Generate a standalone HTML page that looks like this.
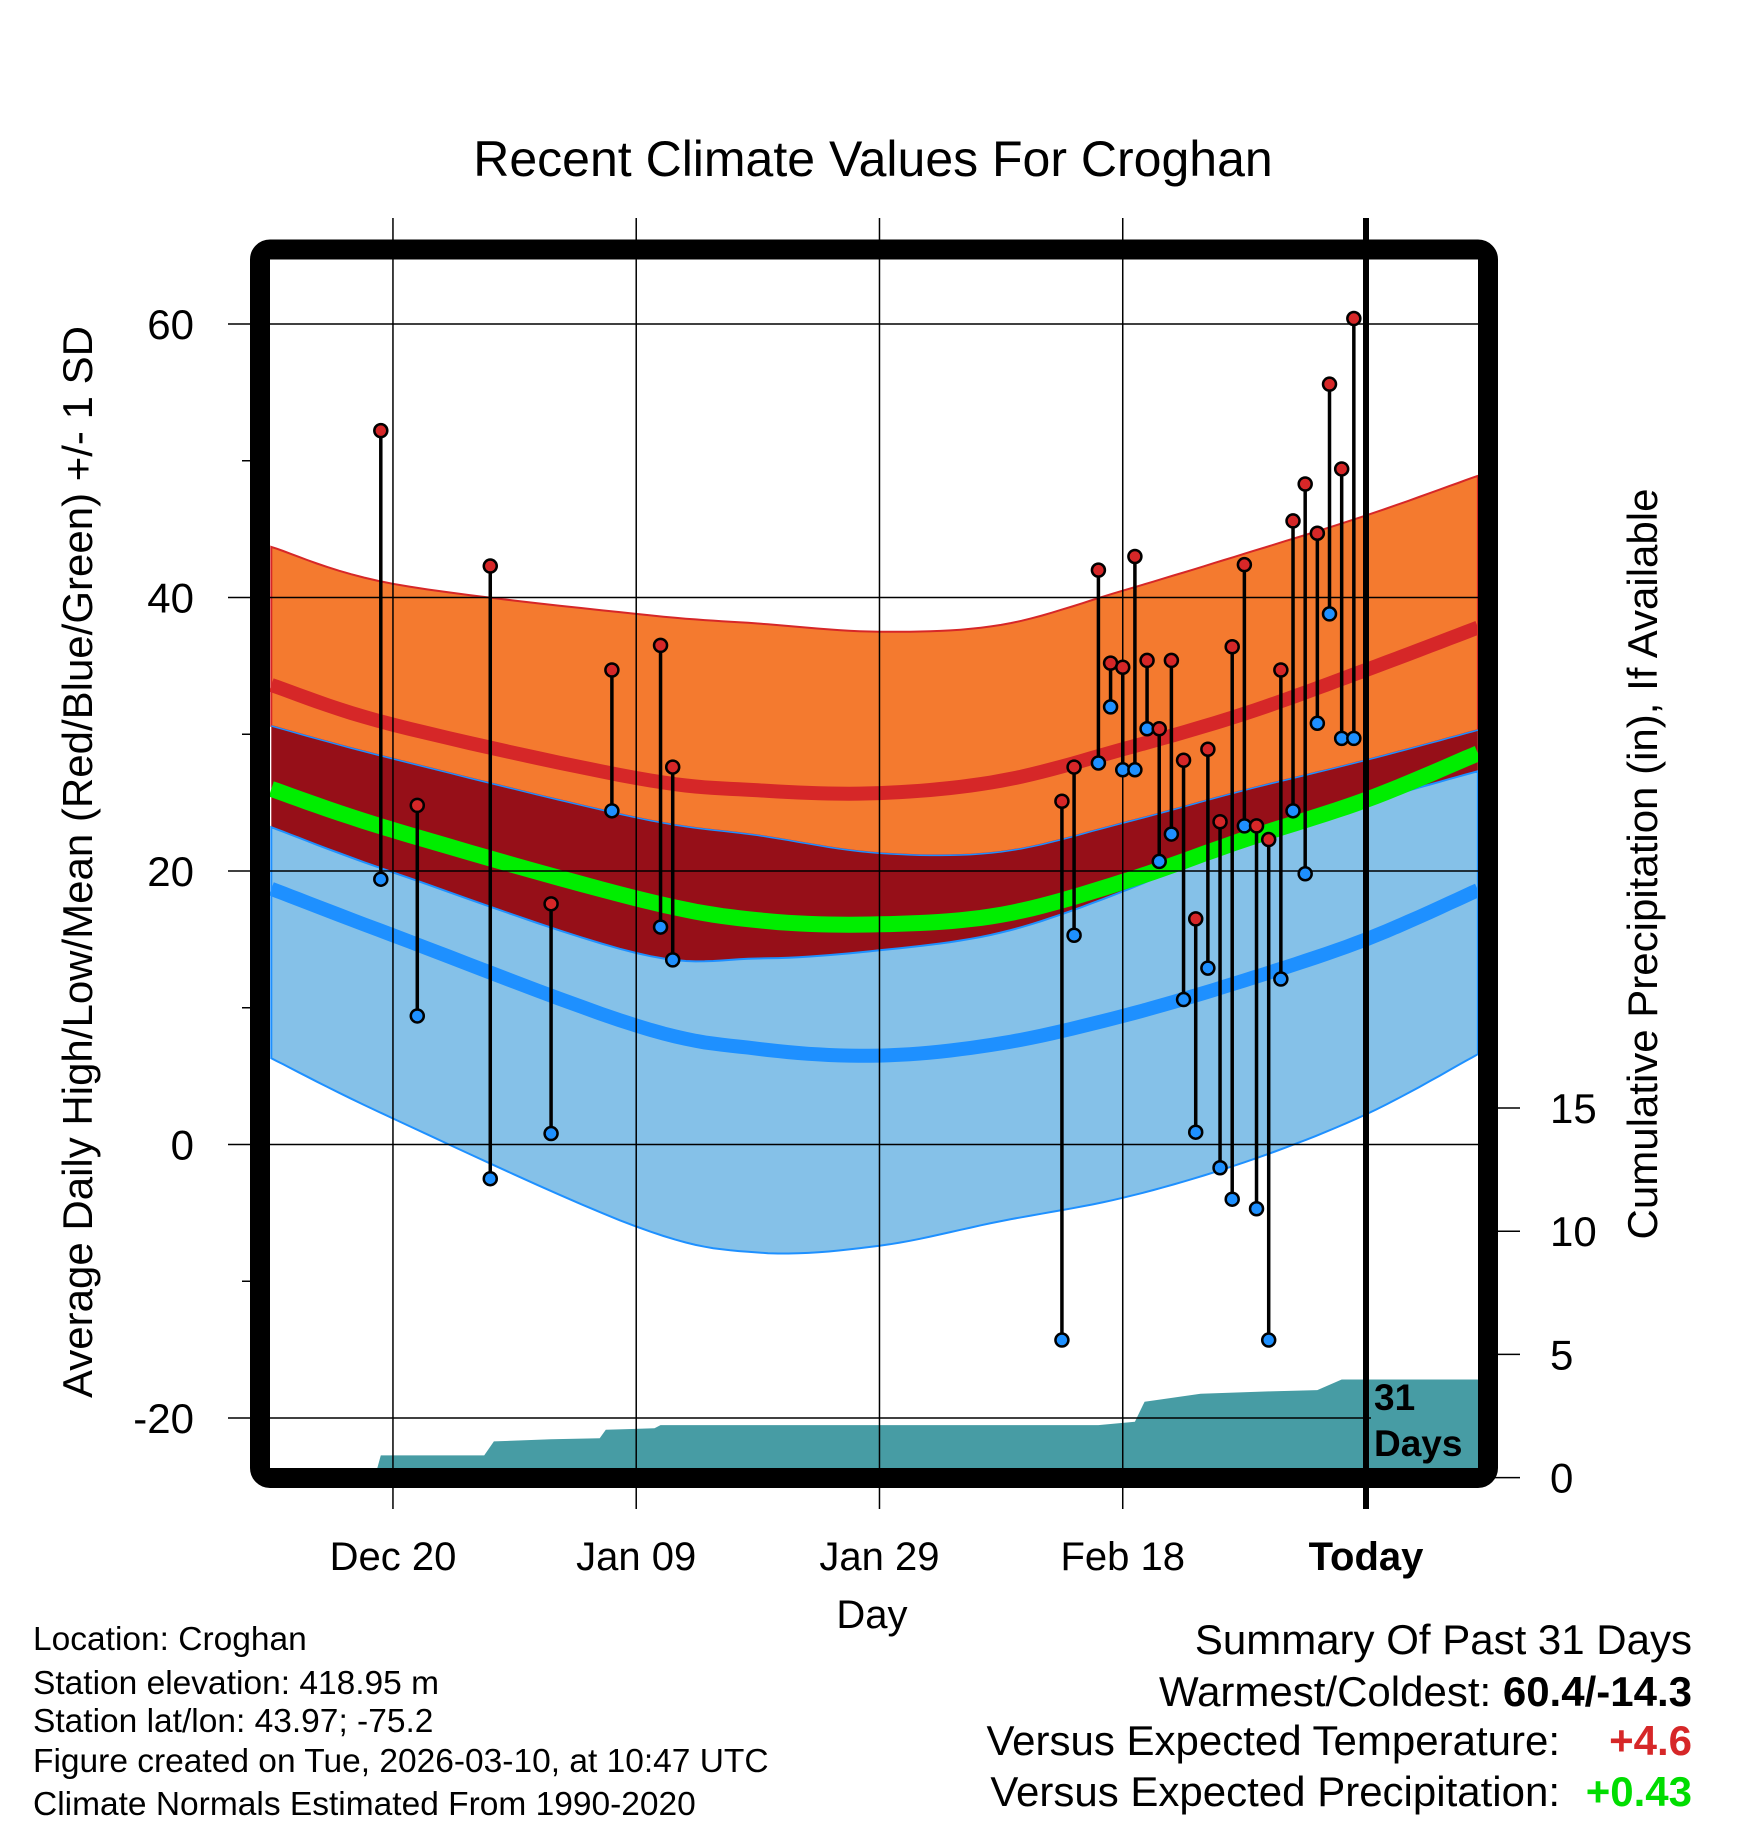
<!DOCTYPE html>
<html><head><meta charset="utf-8"><style>
html,body{margin:0;padding:0;background:#fff;}
svg{display:block;font-family:"Liberation Sans",sans-serif;}
</style></head><body>
<svg id="chart" width="1748" height="1828" viewBox="0 0 1748 1828" xmlns="http://www.w3.org/2000/svg">
<defs><clipPath id="plotclip"><rect x="270" y="260" width="1208" height="1208"/></clipPath></defs>
<rect width="1748" height="1828" fill="#fff"/>
<text x="873" y="176" font-size="50" text-anchor="middle">Recent Climate Values For Croghan</text>
<g id="bands" clip-path="url(#plotclip)"></g>
<g id="grid"></g>
<g id="marks" clip-path="url(#plotclip)"></g>
<g id="axes"></g>
<text transform="translate(92,862) rotate(-90)" font-size="42" text-anchor="middle">Average Daily High/Low/Mean (Red/Blue/Green) +/- 1 SD</text>
<text transform="translate(1657,864) rotate(-90)" font-size="42" text-anchor="middle">Cumulative Precipitation (in), If Available</text>
<text x="872" y="1628" font-size="40" text-anchor="middle">Day</text>
<g font-size="33.5">
<text x="33" y="1650">Location: Croghan</text>
<text x="33" y="1694">Station elevation: 418.95 m</text>
<text x="33" y="1732">Station lat/lon: 43.97; -75.2</text>
<text x="33" y="1772">Figure created on Tue, 2026-03-10, at 10:47 UTC</text>
<text x="33" y="1815">Climate Normals Estimated From 1990-2020</text>
</g>
<g font-size="42" text-anchor="end">
<text x="1692" y="1654">Summary Of Past 31 Days</text>
<text x="1692" y="1706">Warmest/Coldest: <tspan font-weight="bold">60.4/-14.3</tspan></text>
<text x="1560" y="1755">Versus Expected Temperature:</text>
<text x="1692" y="1755" font-weight="bold" fill="#d62728">+4.6</text>
<text x="1560" y="1806">Versus Expected Precipitation:</text>
<text x="1692" y="1806" font-weight="bold" fill="#00dd00">+0.43</text>
</g>
</svg>
<script>
var normDays=[-90,-80,-60,-50,-40,-30,-20,-10,0,9.2];
var highPlusSD=[43.7,41.0,38.8,38.1,37.5,38.0,40.5,43.2,46.0,48.9];
var meanHigh=[33.6,30.7,26.8,25.9,25.7,26.6,28.9,31.5,34.7,37.8];
var highMinusSD=[30.6,28.2,23.9,22.6,21.3,21.4,23.5,25.9,28.1,30.3];
var meanTemp=[26.0,23.0,18.0,16.4,16.1,16.8,19.2,22.3,25.2,28.6];
var lowPlusSD=[23.2,19.9,14.0,13.6,14.2,15.5,18.5,22.3,25.0,27.3];
var meanLow=[18.7,15.3,8.7,7.0,6.5,7.4,9.4,12.0,15.0,18.6];
var lowMinusSD=[6.3,1.9,-6.0,-7.9,-7.4,-5.6,-3.9,-1.3,2.2,6.6];
var obsDays=[-81,-78,-72,-67,-62,-58,-57,-25,-24,-22,-21,-20,-19,-18,-17,-16,-15,-14,-13,-12,-11,-10,-9,-8,-7,-6,-5,-4,-3,-2,-1];
var obsHigh=[52.2,24.8,42.3,17.6,34.7,36.5,27.6,25.1,27.6,42.0,35.2,34.9,43.0,35.4,30.4,35.4,28.1,16.5,28.9,23.6,36.4,42.4,23.3,22.3,34.7,45.6,48.3,44.7,55.6,49.4,60.4];
var obsLow=[19.4,9.4,-2.5,0.8,24.4,15.9,13.5,-14.3,15.3,27.9,32.0,27.4,27.4,30.4,20.7,22.7,10.6,0.9,12.9,-1.7,-4.0,23.3,-4.7,-14.3,12.1,24.4,19.8,30.8,38.8,29.7,29.7];
var precipDays=[-90,-81.5,-81,-72.5,-71.7,-67,-63,-62.5,-58.5,-58,-22,-19,-18.2,-13.6,-8,-4,-2,9.2];
var precipCum=[0,0,0.9,0.9,1.47,1.56,1.6,1.94,2.0,2.13,2.13,2.27,3.08,3.4,3.5,3.55,3.98,3.98];
var dateLabels=["Dec 20","Jan 09","Jan 29","Feb 18","Today"];
var dateOffsets=[-80,-60,-40,-20,0];
var tempTicks=[60,40,20,0,-20];
var tempMinor=[50,30,10,-10];
var precipTicks=[0,5,10,15];

function xScale(d){return 1366+d*12.163;}
function yScale(v){return 1144.5-v*13.675;}
function ypScale(p){return 1477.6-p*24.64;}
var SVGNS="http://www.w3.org/2000/svg";
function mk(tag,attrs,parent){var el=document.createElementNS(SVGNS,tag);for(var k in attrs){el.setAttribute(k,attrs[k]);}parent.appendChild(el);return el;}
function smoothPts(arr){
  var P=[];
  for(var i=0;i<normDays.length;i++){P.push([xScale(normDays[i]),yScale(arr[i])]);}
  var out=[];
  var n=P.length;
  for(var j=0;j<n-1;j++){
    var p0=P[Math.max(0,j-1)],p1=P[j],p2=P[j+1],p3=P[Math.min(n-1,j+2)];
    for(var s=0;s<12;s++){
      var u=s/12,u2=u*u,u3=u2*u;
      var cx=0.5*((2*p1[0])+(-p0[0]+p2[0])*u+(2*p0[0]-5*p1[0]+4*p2[0]-p3[0])*u2+(-p0[0]+3*p1[0]-3*p2[0]+p3[0])*u3);
      var cy=0.5*((2*p1[1])+(-p0[1]+p2[1])*u+(2*p0[1]-5*p1[1]+4*p2[1]-p3[1])*u2+(-p0[1]+3*p1[1]-3*p2[1]+p3[1])*u3);
      out.push(cx.toFixed(1)+","+cy.toFixed(1));
    }
  }
  out.push(P[n-1][0].toFixed(1)+","+P[n-1][1].toFixed(1));
  return out;
}
function band(top,bot){return smoothPts(top).concat(smoothPts(bot).reverse()).join(" ");}
var bandsG=document.getElementById('bands');
var el;
el=mk('polygon',{points:band(highPlusSD,highMinusSD),fill:'#f47a2f',stroke:'#d62728','stroke-width':2},bandsG);


el=mk('polygon',{points:band(highMinusSD,lowPlusSD),fill:'#960f18'},bandsG);


el=mk('polygon',{points:band(lowPlusSD,lowMinusSD),fill:'#85c1e8',stroke:'#1e90ff','stroke-width':2},bandsG);


el=mk('polyline',{points:smoothPts(highMinusSD).join(" "),fill:'none',stroke:'#1e90ff','stroke-width':1.5},bandsG);


el=mk('polyline',{points:smoothPts(meanHigh).join(" "),fill:'none',stroke:'#d62728','stroke-width':14},bandsG);


el=mk('polyline',{points:smoothPts(meanTemp).join(" "),fill:'none',stroke:'#00ee00','stroke-width':16},bandsG);


el=mk('polyline',{points:smoothPts(meanLow).join(" "),fill:'none',stroke:'#1e90ff','stroke-width':14},bandsG);


var pp=[];
for(var q=0;q<precipDays.length;q++){pp.push(xScale(precipDays[q]).toFixed(1)+","+ypScale(precipCum[q]).toFixed(1));}
pp.push(xScale(9.2)+","+ypScale(0));pp.unshift(xScale(-90)+","+ypScale(0));
el=mk('polygon',{points:pp.join(" "),fill:'#479ca4'},bandsG);



var gridG=document.getElementById('grid');
dateOffsets.forEach(function(d,i){
  var g=mk('line',{x1:xScale(d),x2:xScale(d),y1:218,y2:1509,stroke:'#000','stroke-width':d===0?6:1.5},gridG);
  
  
  var tx=mk('text',{x:xScale(d),y:1570,'font-size':40,'text-anchor':'middle','font-weight':d===0?'bold':'normal'},gridG);
  tx.textContent=dateLabels[i];
  
  
});
tempTicks.forEach(function(v){
  var g=mk('line',{x1:228,x2:1478,y1:yScale(v),y2:yScale(v),stroke:'#000','stroke-width':1.5},gridG);
  
  
  var tx=mk('text',{x:194,y:yScale(v)+15,'font-size':42,'text-anchor':'end'},gridG);
  tx.textContent=v;
  
  
});
tempMinor.forEach(function(v){
  var g=mk('line',{x1:242,x2:260,y1:yScale(v),y2:yScale(v),stroke:'#000','stroke-width':1.5},gridG);
  
  
});
precipTicks.forEach(function(p){
  var g=mk('line',{x1:1488,x2:1520,y1:ypScale(p),y2:ypScale(p),stroke:'#000','stroke-width':1.5},gridG);
  
  
  var tx=mk('text',{x:1550,y:ypScale(p)+15,'font-size':42},gridG);
  tx.textContent=p;
  
  
});

var marksG=document.getElementById('marks');
obsDays.forEach(function(d,i){
  var l=mk('line',{x1:xScale(d),x2:xScale(d),y1:yScale(obsHigh[i]),y2:yScale(obsLow[i]),stroke:'#000','stroke-width':3.5},marksG);
  
  
  var h=mk('circle',{cx:xScale(d),cy:yScale(obsHigh[i]),r:6.5,fill:'#d62728',stroke:'#000','stroke-width':2.5},marksG);
  
  
  var lo=mk('circle',{cx:xScale(d),cy:yScale(obsLow[i]),r:6.5,fill:'#1e90ff',stroke:'#000','stroke-width':2.5},marksG);
  
  
});

var axesG=document.getElementById('axes');
el=mk('rect',{x:1371,y:1380,width:107,height:88,fill:'#479ca4'},axesG);


el=mk('line',{x1:1366,x2:1366,y1:218,y2:1509,stroke:'#000','stroke-width':6},axesG);


el=mk('text',{x:1374,y:1410,'font-size':37,'font-weight':'bold'},axesG);
el.textContent='31';


el=mk('text',{x:1374,y:1456,'font-size':37,'font-weight':'bold'},axesG);
el.textContent='Days';


el=mk('rect',{x:260,y:249.5,width:1228,height:1228.5,rx:10,fill:'none',stroke:'#000','stroke-width':20},axesG);


</script>
</body></html>
